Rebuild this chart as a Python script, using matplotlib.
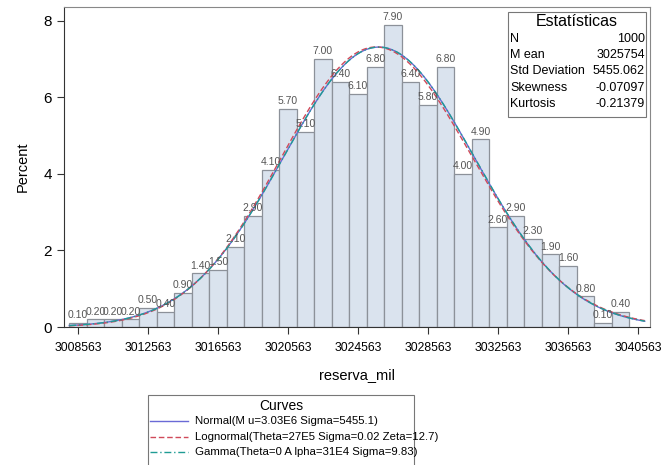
import numpy as np
import matplotlib
matplotlib.use("Agg")
import matplotlib.pyplot as plt
from matplotlib.lines import Line2D
from math import lgamma

plt.rcParams['font.family'] = ['Liberation Sans', 'DejaVu Sans']

# ---- data ----
bin_start = 3008563
bin_width = 1000
percents = [0.10, 0.20, 0.20, 0.20, 0.50, 0.40, 0.90, 1.40, 1.50, 2.10, 2.90,
            4.10, 5.70, 5.10, 7.00, 6.40, 6.10, 6.80, 7.90, 6.40, 5.80, 6.80,
            4.00, 4.90, 2.60, 2.90, 2.30, 1.90, 1.60, 0.80, 0.10, 0.40]
tick_values = [3008563, 3012563, 3016563, 3020563, 3024563, 3028563,
               3032563, 3036563, 3040563]
stat_names = ["N", "M ean", "Std Deviation", "Skewness", "Kurtosis"]
stat_values = ["1000", "3025754", "5455.062", "-0.07097", "-0.21379"]
curve_labels = ["Normal(M u=3.03E6 Sigma=5455.1)",
                "Lognormal(Theta=27E5 Sigma=0.02 Zeta=12.7)",
                "Gamma(Theta=0 A lpha=31E4 Sigma=9.83)"]
mu = 3025754.0
sigma = 5455.062
ln_theta, ln_sigma, ln_zeta = 2700000.0, 0.016746, 12.6937
g_alpha, g_sigma = 307640.0, 9.8354

centers = bin_start + bin_width * np.arange(len(percents))

fig = plt.figure(figsize=(6.69, 4.65), dpi=100)
ax = fig.add_axes([64/669, 1-327/465, (650-64)/669, (327-7)/465])

ax.bar(centers, percents, width=bin_width, color="#dae3ee",
       edgecolor="#8c9199", linewidth=0.9, zorder=2)
for c, p in zip(centers, percents):
    ax.text(c, p + 0.07, f"{p:.2f}", ha="center", va="bottom",
            fontsize=7.5, color="#555555", zorder=4)

x = np.linspace(bin_start - bin_width/2, 3040950, 600)
scale = bin_width * 100
normal = scale * np.exp(-0.5*((x-mu)/sigma)**2) / (sigma*np.sqrt(2*np.pi))
y = x - ln_theta
lognorm = scale * np.exp(-0.5*((np.log(y)-ln_zeta)/ln_sigma)**2) / (y*ln_sigma*np.sqrt(2*np.pi))
logg = (g_alpha-1)*np.log(x/g_sigma) - x/g_sigma - lgamma(g_alpha) - np.log(g_sigma)
gamma = scale * np.exp(logg)

ax.plot(x, normal, color="#6a6ad6", lw=1.0, zorder=3)
ax.plot(x, lognorm, color="#d04a5a", lw=1.0, ls=(0, (4, 2)), zorder=3)
ax.plot(x, gamma, color="#1f9c94", lw=1.0, ls=(0, (5, 2, 1, 2)), zorder=3)

ax.set_xlim(bin_start - 800, 3041250)
ax.set_ylim(0, 8.36)
ax.set_xticks(tick_values)
ax.set_xticklabels([str(t) for t in tick_values], fontsize=8.8)
ax.set_yticks([0, 2, 4, 6, 8])
ax.tick_params(axis="y", labelsize=11, length=5, color="#333333")
ax.tick_params(axis="x", length=5, color="#333333", pad=6)
for s in ax.spines.values():
    s.set_color("#888888")
    s.set_linewidth(0.8)
ax.spines["left"].set_color("#333333")
ax.spines["bottom"].set_color("#333333")
ax.set_ylabel("Percent", fontsize=10.5, labelpad=10)
ax.set_xlabel("reserva_mil", fontsize=10.5, labelpad=10)

# statistics box
fig.patches.append(plt.Rectangle((508/669, 1-117/465), (646-508)/669, (117-12)/465,
                                 transform=fig.transFigure, facecolor="white",
                                 edgecolor="#777777", lw=0.8, zorder=5))
fig.text(577/669, 1-21/465, "Estatísticas", ha="center", va="center", fontsize=11.5, zorder=6)
for i, (n, v) in enumerate(zip(stat_names, stat_values)):
    yy = 1 - (39 + 16.2*i)/465
    fig.text(510/669, yy, n, ha="left", va="center", fontsize=9.0, zorder=6)
    fig.text(645/669, yy, v, ha="right", va="center", fontsize=9.0, zorder=6)

# curves legend box
fig.patches.append(plt.Rectangle((148/669, -0.01), (414-148)/669, 1-395/465+0.01,
                                 transform=fig.transFigure, facecolor="white",
                                 edgecolor="#777777", lw=0.8))
fig.text(281/669, 1-406/465, "Curves", ha="center", va="center", fontsize=10)
styles = [dict(color="#6a6ad6", ls="-"), dict(color="#d04a5a", ls=(0, (4, 2))),
          dict(color="#1f9c94", ls=(0, (5, 2, 1, 2)))]
for i, (lab, st) in enumerate(zip(curve_labels, styles)):
    yy = 1 - (421 + 15.5*i)/465
    fig.add_artist(Line2D([150/669, 188/669], [yy, yy], transform=fig.transFigure,
                          lw=1.0, **st))
    fig.text(195/669, yy, lab, ha="left", va="center", fontsize=8.2)

fig.savefig("out.png", dpi=100)
